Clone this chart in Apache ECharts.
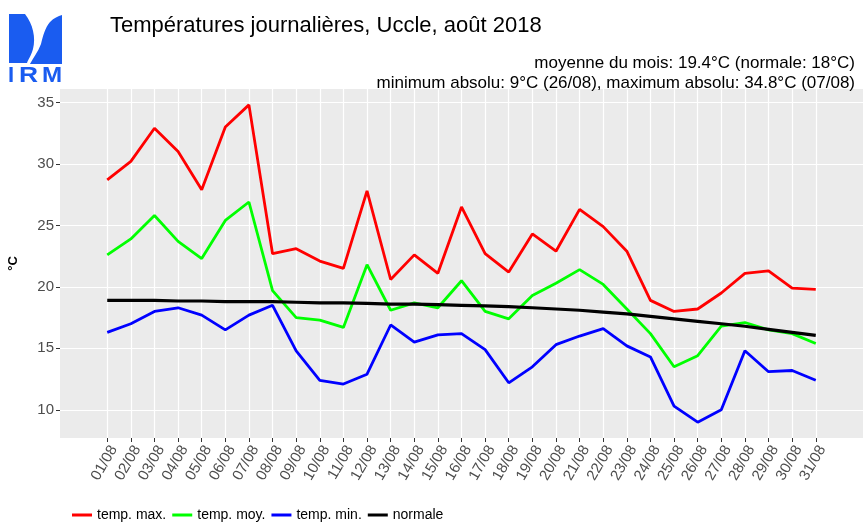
<!DOCTYPE html>
<html>
<head>
<meta charset="utf-8">
<script src="https://cdn.jsdelivr.net/npm/echarts@6/dist/echarts.min.js"></script>
<style>html,body{margin:0;padding:0;background:#fff}#c{width:863px;height:523px}</style>
</head>
<body>
<div id="c"></div>
<script>
var days = ['01/08','02/08','03/08','04/08','05/08','06/08','07/08','08/08','09/08','10/08','11/08','12/08','13/08','14/08','15/08','16/08','17/08','18/08','19/08','20/08','21/08','22/08','23/08','24/08','25/08','26/08','27/08','28/08','29/08','30/08','31/08'];
var tmax = [28.7,30.2,32.9,31.0,27.9,33.0,34.8,22.7,23.1,22.1,21.5,27.8,20.6,22.6,21.1,26.5,22.7,21.2,24.3,22.9,26.3,24.9,22.9,18.9,18.0,18.2,19.5,21.1,21.3,19.9,19.8];
var tmoy = [22.6,23.9,25.8,23.7,22.3,25.4,26.9,19.7,17.5,17.3,16.7,21.8,18.1,18.7,18.3,20.5,18.0,17.4,19.3,20.3,21.4,20.2,18.2,16.2,13.5,14.4,16.8,17.1,16.5,16.2,15.4];
var tmin = [16.3,17.0,18.0,18.3,17.7,16.5,17.7,18.5,14.8,12.4,12.1,12.9,16.9,15.5,16.1,16.2,14.9,12.2,13.5,15.3,16.0,16.6,15.2,14.3,10.3,9.0,10.0,14.8,13.1,13.2,12.4];
var normale = [18.9,18.9,18.9,18.85,18.85,18.8,18.8,18.8,18.75,18.7,18.7,18.65,18.6,18.6,18.55,18.5,18.45,18.4,18.3,18.2,18.1,17.95,17.8,17.6,17.4,17.2,17.0,16.8,16.55,16.3,16.05];
var yTicks = [10,15,20,25,30,35];

var FONT = 'Liberation Sans, Arial, sans-serif';
var padL = [' ', '  '], padR = ['   ', '    '];
var cats = padL.concat(days, padR);
function inDays(idx){ return idx >= padL.length && idx < padL.length + days.length; }
function pairs(arr){ return arr.map(function(v,i){ return [days[i], v]; }); }
var allVals = tmax.concat(tmin);
var dmin = Math.min.apply(null, allVals), dmax = Math.max.apply(null, allVals);
var ex = (dmax - dmin) * 0.05;

var logoSvg = '<svg xmlns="http://www.w3.org/2000/svg" width="58" height="72" viewBox="0 0 58 72">' +
  '<path d="M1,0 L17,0 C25,10 28,24 25,35 C23,42 20,46 19,49 L1,49 Z" fill="#1a5cf0"/>' +
  '<path d="M42,8 C46,4 50,2 54,1 L54,50 L22,50 C25,44 30,38 33,30 C35,22 37,14 42,8 Z" fill="#1a5cf0"/>' +
  '<g font-family="Liberation Sans, Arial, sans-serif" font-weight="bold" font-size="22" fill="#1a5cf0">' +
  '<text x="0" y="68">I</text>' +
  '<text transform="translate(11,68) scale(1.2,1)">R</text>' +
  '<text transform="translate(34,68) scale(1.1,1)">M</text></g>' +
  '</svg>';
var logoUrl = 'data:image/svg+xml;charset=utf-8,' + encodeURIComponent(logoSvg);

var chart = echarts.init(document.getElementById('c'), null, {renderer:'canvas'});
function line(name, data, color, w){
  return {name:name, type:'line', data:pairs(data), showSymbol:false, symbol:'none',
    lineStyle:{color:color, width:w}, itemStyle:{color:color}, animation:false, z: 2};
}
chart.setOption({
  animation:false,
  textStyle:{fontFamily:FONT},
  grid:{left:60, top:89, right:0, bottom:85, show:true, backgroundColor:'#EBEBEB', borderWidth:0,
    containLabel:false, outerBoundsMode:'none'},
  title:[
    {text:'Températures journalières, Uccle, août 2018', left:105, top:10, textStyle:{fontSize:22, fontWeight:'normal', color:'#000', fontFamily:FONT}},
    {text:'moyenne du mois: 19.4°C (normale: 18°C)', right:3, top:50, textStyle:{fontSize:17, fontWeight:'normal', color:'#000', fontFamily:FONT}},
    {text:'minimum absolu: 9°C (26/08), maximum absolu: 34.8°C (07/08)', right:3, top:70, textStyle:{fontSize:17, fontWeight:'normal', color:'#000', fontFamily:FONT}}
  ],
  legend:{left:67, top:503, icon:'rect', itemWidth:20, itemHeight:3, itemGap:6,
    textStyle:{fontSize:14, color:'#000', fontFamily:FONT},
    data:['temp. max.','temp. moy.','temp. min.','normale']},
  xAxis:{type:'category', data:cats, boundaryGap:false,
    axisLine:{show:false},
    axisTick:{show:true, length:4, interval:function(i){return inDays(i);}, lineStyle:{color:'#333'}},
    axisLabel:{interval:function(i){return inDays(i);}, rotate:60, fontSize:15, color:'#4d4d4d', margin:5,
      verticalAlign:'top', fontFamily:FONT},
    splitLine:{show:true, interval:function(i){return inDays(i);}, lineStyle:{color:'#fff', width:1.2}}
  },
  yAxis:{type:'value', min:dmin-ex, max:dmax+ex, name:'°C', nameLocation:'middle', nameGap:40, nameRotate:90,
    nameTextStyle:{fontSize:13, fontWeight:'bold', color:'#000', fontFamily:FONT},
    axisLine:{show:false},
    axisTick:{show:true, length:4, customValues:yTicks, lineStyle:{color:'#333'}},
    axisLabel:{customValues:yTicks, fontSize:15, color:'#4d4d4d', margin:6, fontFamily:FONT},
    splitLine:{show:true, customValues:yTicks, lineStyle:{color:'#fff', width:1.2}}
  },
  series:[
    line('temp. max.', tmax, '#FF0000', 2.8),
    line('temp. moy.', tmoy, '#00FF00', 2.8),
    line('temp. min.', tmin, '#0000FF', 2.8),
    line('normale', normale, '#000000', 3.2)
  ],
  graphic:[
    {type:'image', left:8, top:14, style:{image:logoUrl, width:58, height:72}}
  ]
});
</script>
</body>
</html>
